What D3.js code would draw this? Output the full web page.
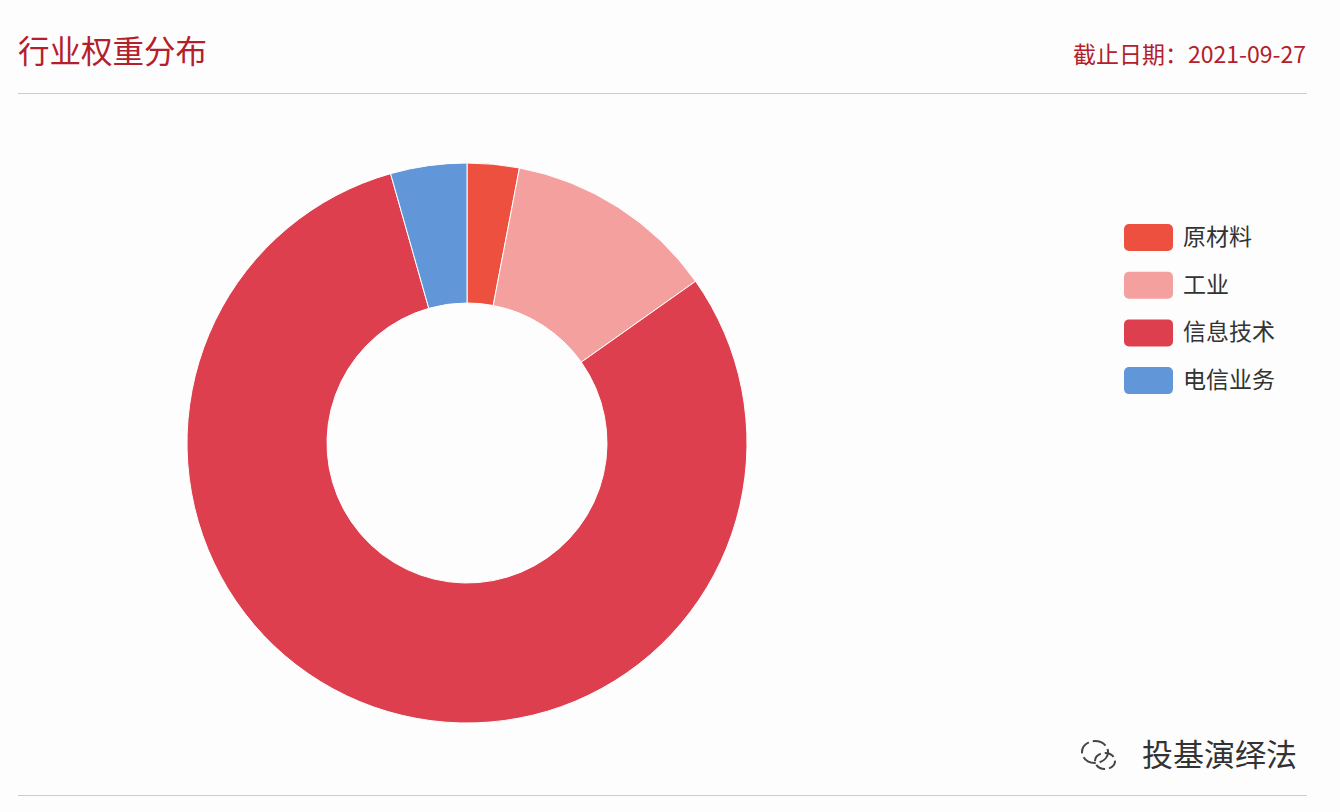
<!DOCTYPE html>
<html><head><meta charset="utf-8">
<script src="https://cdn.jsdelivr.net/npm/d3@7/dist/d3.min.js"></script>
<style>body{margin:0;background:#fff;}svg{display:block;font-family:"Noto Sans CJK SC","Noto Sans",sans-serif;}</style>
</head><body><svg id="c" width="1340" height="812"></svg>
<script>
const categories = ["原材料","工业","信息技术","电信业务"];
const values = [3.0, 12.2, 80.4, 4.4];
const colors = ["#ee5040","#f4a09e","#de3f4f","#6197d9"];
const title = "行业权重分布";
const dateLabel = "截止日期：2021-09-27";

const svg = d3.select("#c");
svg.append("rect").attr("width",1340).attr("height",812).attr("fill","#fdfdfd");
svg.append("text").attr("x",18).attr("y",63).attr("font-size",31.5).attr("fill","#b3202c").text(title);
svg.append("text").attr("x",1306).attr("y",63).attr("text-anchor","end").attr("font-size",23).attr("fill","#b3202c").text(dateLabel);
svg.append("line").attr("x1",18).attr("x2",1307).attr("y1",93.5).attr("y2",93.5).attr("stroke","#ccc");
svg.append("line").attr("x1",18).attr("x2",1307).attr("y1",795.5).attr("y2",795.5).attr("stroke","#ccc");

const data = categories.map((c,i)=>({c,v:values[i],col:colors[i]}));
const pie = d3.pie().value(d=>d.v).sort(null);
const arc = d3.arc().innerRadius(140).outerRadius(280);
svg.append("g").attr("transform","translate(467,443)")
  .selectAll("path").data(pie(data)).join("path")
  .attr("d",arc).attr("fill",d=>d.data.col).attr("stroke","#fff").attr("stroke-width",1);

const lg = svg.append("g").attr("transform","translate(1124,224)");
const rows = lg.selectAll("g").data(data).join("g").attr("transform",(d,i)=>`translate(0,${i*47.7})`);
rows.append("rect").attr("width",49).attr("height",27).attr("rx",5).attr("fill",d=>d.col);
rows.append("text").attr("x",59).attr("y",21).attr("font-size",23).attr("fill","#333").text(d=>d.c);

svg.append("text").attr("x",1297).attr("y",766).attr("text-anchor","end").attr("font-size",31).attr("fill","#333").text("投基演绎法");
const ic = svg.append("g").attr("transform","translate(1095,752)").attr("fill","none").attr("stroke","#444").attr("stroke-width",2);
ic.append("ellipse").attr("rx",13).attr("ry",11).attr("stroke-dasharray","14 4");
ic.append("ellipse").attr("cx",10).attr("cy",9).attr("rx",10).attr("ry",8).attr("stroke-dasharray","10 4");
</script></body></html>
